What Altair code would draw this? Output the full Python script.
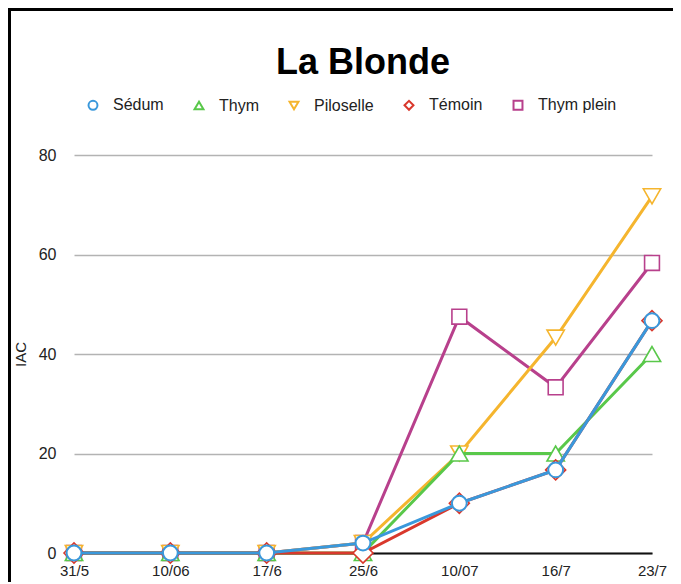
import altair as alt
import pandas as pd

dates = ["31/5", "10/06", "17/6", "25/6", "10/07", "16/7", "23/7"]
series = ["Sédum", "Thym", "Piloselle", "Témoin", "Thym plein"]
sedum = [0, 0, 0, 2, 10, 16.7, 46.7]
thym = [0, 0, 0, 0, 20, 20, 40]
piloselle = [0, 0, 0, 2, 20, 43.3, 71.7]
temoin = [0, 0, 0, 0, 10, 16.7, 46.7]
thym_plein = [0, 0, 0, 2, 47.5, 33.3, 58.3]
colors = ["#3A98DB", "#59C84A", "#F5B52E", "#D9382C", "#B8408C"]
shapes = ["circle", "triangle-up", "triangle-down", "diamond", "square"]
sizes = [220, 300, 300, 400, 220]
y_ticks = [0, 20, 40, 60, 80]

values = [sedum, thym, piloselle, temoin, thym_plein]
rows = []
for s, vals in zip(series, values):
    for d, v in zip(dates, vals):
        rows.append({"date": d, "serie": s, "valeur": v})
df = pd.DataFrame(rows)

color_scale = alt.Scale(domain=series, range=colors)
shape_scale = alt.Scale(domain=series, range=shapes)

legend = alt.Legend(
    title=None, orient="none", legendX=11, legendY=-58, direction="horizontal",
    labelFontSize=16, labelColor="#222", symbolSize=80, symbolStrokeWidth=2,
    symbolFillColor="white", columnPadding=26, labelOffset=12, padding=0,
)

x_enc = alt.X(
    "date:N", sort=dates, scale=alt.Scale(type="point", padding=0),
    axis=alt.Axis(title=None, labelAngle=0, labelFontSize=15, labelColor="#222",
                  domain=True, domainColor="#111", domainWidth=2, ticks=False,
                  grid=False, labelPadding=10),
)
y_enc = alt.Y(
    "valeur:Q", scale=alt.Scale(domain=[0, 80], nice=False),
    axis=alt.Axis(title="IAC", values=y_ticks, labelFontSize=16, labelColor="#222",
                  titleFontSize=15, titleFontWeight="normal", titleColor="#222",
                  titlePadding=10, ticks=False, domain=False, grid=True,
                  gridColor="#b3b3b3", gridWidth=1.5, labelPadding=18),
)
c_enc = alt.Color("serie:N", scale=color_scale, legend=legend)
s_enc = alt.Shape("serie:N", scale=shape_scale, legend=legend)

base = alt.Chart(df)
layers = []
draw_order = ["Thym plein", "Piloselle", "Thym", "Témoin", "Sédum"]
for s in draw_order:
    i = series.index(s)
    sub = base.transform_filter(alt.datum.serie == s)
    line = sub.mark_line(strokeWidth=3).encode(x=x_enc, y=y_enc, color=c_enc)
    pts = sub.mark_point(fill="white", fillOpacity=1, filled=False,
                         strokeWidth=2 if s == "Sédum" else 1.6,
                         size=sizes[i], opacity=1).encode(
        x=x_enc, y=y_enc, color=c_enc, shape=s_enc,
    )
    layers += [line, pts]

frame = alt.Chart(pd.DataFrame({"a": [0]})).mark_rect(
    fill=None, stroke="black", strokeWidth=3
).encode(
    x=alt.value(-64.5), x2=alt.value(700), y=alt.value(-145.5), y2=alt.value(600)
)

chart = alt.layer(frame, *layers).properties(
    width=578,
    height=398,
    title=alt.TitleParams("La Blonde", fontSize=36, fontWeight="bold", color="black",
                          anchor="middle", frame="group", baseline="alphabetic",
                          offset=-102),
    autosize=alt.AutoSizeParams(type="none"),
    padding={"left": 66, "top": 147, "right": 21, "bottom": 29},
).configure(
    font="Liberation Sans",
).configure_view(
    stroke=None,
)

chart.save("out.html", embed_options={"renderer": "svg", "actions": False})
